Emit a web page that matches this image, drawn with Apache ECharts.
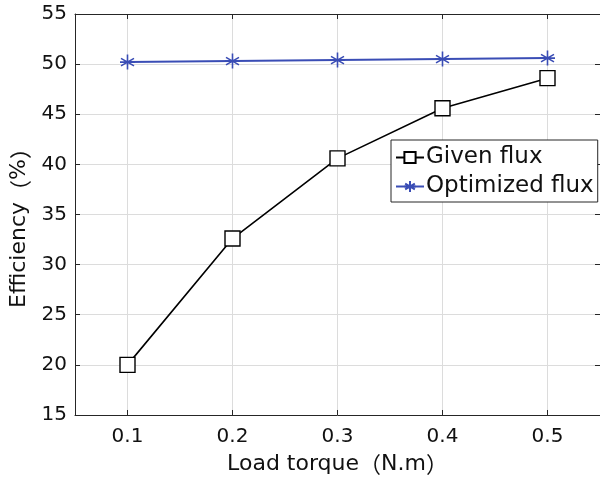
<!DOCTYPE html>
<html>
<head>
<meta charset="utf-8">
<script src="https://cdn.jsdelivr.net/npm/echarts@6/dist/echarts.min.js"></script>
<style>html,body{margin:0;padding:0;background:#fff}#c{width:600px;height:480px}</style>
</head>
<body>
<div id="c"></div>
<script>
var loadTorque = [0.1, 0.2, 0.3, 0.4, 0.5];
var givenFlux = [20.0, 32.6, 40.6, 45.6, 48.6];
var optimizedFlux = [50.2, 50.3, 50.4, 50.5, 50.6];
var xTicks = [0.1, 0.2, 0.3, 0.4, 0.5];
var yTicks = [15, 20, 25, 30, 35, 40, 45, 50, 55];

var FONT = 'DejaVu Sans';
var CJK = 'Noto Sans CJK SC';
var starPath = 'path://M0,-10L0,10M-8.66,-5L8.66,5M-8.66,5L8.66,-5M-10,0L10,0';

function pairs(xs, ys){ return xs.map(function(x,i){ return [x, ys[i]]; }); }

var axisLineStyle = {color:'#262626', width:1};
var chart = echarts.init(document.getElementById('c'), null, {renderer:'canvas'});
chart.setOption({
  animation:false,
  backgroundColor:'#fff',
  grid:{left:75, right:-3, top:14, bottom:65, containLabel:false},
  legend:{
    orient:'vertical', left:391, top:140,
    backgroundColor:'#fff', borderColor:'#262626', borderWidth:1,
    padding:[6,4,4,4], itemGap:6, itemWidth:28, itemHeight:14,
    textStyle:{fontFamily:FONT, fontSize:23, color:'#111', padding:[0,0,0,-3]},
    data:['Given flux','Optimized flux']
  },
  xAxis:[{
    type:'value', min:0.05, max:0.55, position:'bottom',
    name:'Load torque{p|（}N.m{p|）}', nameLocation:'middle', nameGap:38,
    nameTextStyle:{fontFamily:FONT, fontSize:22, color:'#111', padding:[0,0,0,0],
      rich:{p:{fontFamily:CJK, fontSize:22, color:'#111'}}},
    axisLine:{show:true, lineStyle:axisLineStyle},
    axisTick:{show:true, inside:true, length:5, customValues:xTicks, lineStyle:axisLineStyle},
    axisLabel:{customValues:xTicks, fontFamily:FONT, fontSize:20, color:'#111', margin:12,
      formatter:function(v){return v.toFixed(1);}},
    splitLine:{show:true, lineStyle:{color:'#dcdcdc', width:1}}
  },{
    type:'value', min:0.05, max:0.55, position:'top',
    axisLine:{show:true, lineStyle:axisLineStyle},
    axisTick:{show:true, inside:true, length:5, customValues:xTicks, lineStyle:axisLineStyle},
    axisLabel:{show:false},
    splitLine:{show:false}
  }],
  yAxis:[{
    type:'value', min:15, max:55, interval:5, position:'left',
    name:'Efficiency{p|（}%{p|）}', nameLocation:'middle', nameGap:42, nameRotate:90,
    nameTextStyle:{fontFamily:FONT, fontSize:22, color:'#111', padding:[0,16,0,0],
      rich:{p:{fontFamily:CJK, fontSize:22, color:'#111'}}},
    axisLine:{show:true, lineStyle:axisLineStyle},
    axisTick:{show:true, inside:true, length:5, lineStyle:axisLineStyle},
    axisLabel:{fontFamily:FONT, fontSize:20, color:'#111', margin:8},
    splitLine:{show:true, lineStyle:{color:'#dcdcdc', width:1}}
  },{
    type:'value', min:15, max:55, interval:5, position:'right',
    axisLine:{show:true, lineStyle:axisLineStyle},
    axisTick:{show:true, inside:true, length:5, lineStyle:axisLineStyle},
    axisLabel:{show:false},
    splitLine:{show:false}
  }],
  series:[{
    name:'Given flux', type:'line', xAxisIndex:0, yAxisIndex:0,
    data:pairs(loadTorque, givenFlux),
    symbol:'rect', symbolSize:15,
    lineStyle:{color:'#000', width:1.6},
    itemStyle:{color:'#fff', borderColor:'#000', borderWidth:1.4}
  },{
    name:'Optimized flux', type:'line', xAxisIndex:0, yAxisIndex:0,
    data:pairs(loadTorque, optimizedFlux),
    symbol:starPath, symbolSize:15,
    lineStyle:{color:'#3a4db5', width:2},
    itemStyle:{color:'none', borderColor:'#3a4db5', borderWidth:1.6}
  }]
});
</script>
</body>
</html>
